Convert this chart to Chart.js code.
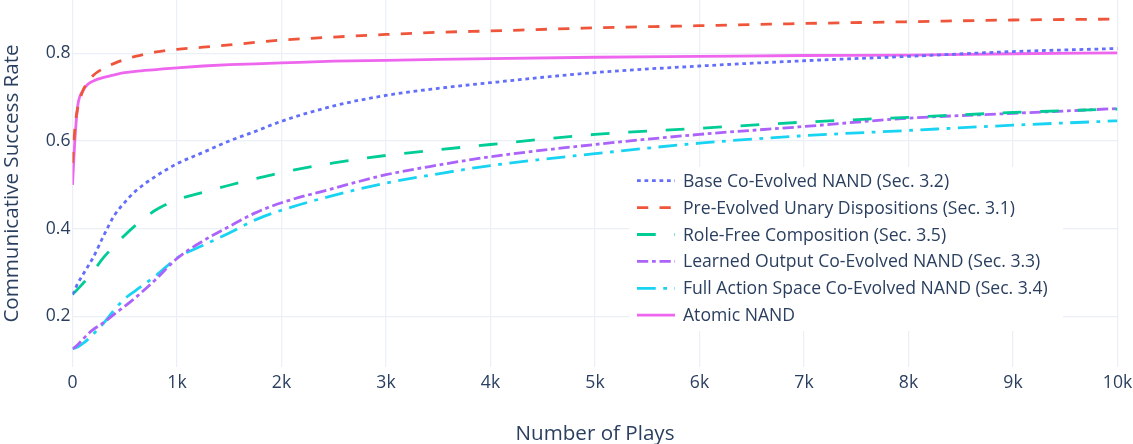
<!DOCTYPE html>
<html>
<head>
<meta charset="utf-8">
<script src="https://cdn.jsdelivr.net/npm/chart.js@4/dist/chart.umd.min.js"></script>
<style>
  html,body{margin:0;padding:0;background:#fff;}
  #wrap{width:1133px;height:444px;position:relative;}
</style>
</head>
<body>
<div id="wrap"><canvas id="c" width="1133" height="444"></canvas></div>
<script>
// x positions (number of plays)
const plays = [0, 25, 50, 100, 150, 200, 300, 400, 500, 600, 800, 1000, 1250, 1500, 1750, 2000, 2500, 3000, 3500, 4000, 5000, 6000, 7000, 8000, 9000, 10000];

const baseCoEvolved   = [0.25, 0.262, 0.275, 0.295, 0.315, 0.335, 0.385, 0.43, 0.46, 0.485, 0.52, 0.548, 0.574, 0.600, 0.622, 0.645, 0.68, 0.704, 0.72, 0.733, 0.756, 0.771, 0.783, 0.793, 0.804, 0.811];
const preEvolvedUnary = [0.55, 0.635, 0.675, 0.715, 0.735, 0.75, 0.766, 0.777, 0.786, 0.793, 0.803, 0.809, 0.814, 0.819, 0.825, 0.830, 0.837, 0.843, 0.848, 0.851, 0.858, 0.863, 0.868, 0.872, 0.876, 0.878];
const roleFree        = [0.25, 0.256, 0.262, 0.275, 0.288, 0.303, 0.335, 0.36, 0.385, 0.407, 0.443, 0.466, 0.483, 0.499, 0.514, 0.528, 0.550, 0.567, 0.580, 0.592, 0.615, 0.629, 0.643, 0.654, 0.665, 0.673];
const learnedOutput   = [0.126, 0.13, 0.135, 0.148, 0.16, 0.17, 0.186, 0.205, 0.223, 0.242, 0.285, 0.332, 0.372, 0.405, 0.436, 0.459, 0.492, 0.523, 0.545, 0.564, 0.592, 0.615, 0.633, 0.652, 0.663, 0.674];
const fullActionSpace = [0.126, 0.128, 0.13, 0.138, 0.148, 0.16, 0.185, 0.215, 0.24, 0.258, 0.293, 0.333, 0.362, 0.39, 0.42, 0.442, 0.476, 0.504, 0.525, 0.544, 0.571, 0.595, 0.612, 0.624, 0.636, 0.646];
const atomicNand      = [0.50, 0.61, 0.68, 0.715, 0.73, 0.737, 0.745, 0.751, 0.756, 0.759, 0.763, 0.767, 0.771, 0.774, 0.776, 0.778, 0.782, 0.784, 0.786, 0.788, 0.791, 0.793, 0.795, 0.796, 0.799, 0.801];

const seriesNames = [
  'Base Co-Evolved NAND (Sec. 3.2)',
  'Pre-Evolved Unary Dispositions (Sec. 3.1)',
  'Role-Free Composition (Sec. 3.5)',
  'Learned Output Co-Evolved NAND (Sec. 3.3)',
  'Full Action Space Co-Evolved NAND (Sec. 3.4)',
  'Atomic NAND'
];
const seriesValues = [baseCoEvolved, preEvolvedUnary, roleFree, learnedOutput, fullActionSpace, atomicNand];
const seriesColors = ['#636EFA', '#EF553B', '#00CC96', '#AB63FA', '#19D3F3', '#EE66EE'];
const seriesDash = [
  [3.75, 3.75],
  [11.25, 11.25],
  [18.75, 18.75],
  [11.25, 3.75, 3.75, 3.75],
  [18.75, 7.5, 3.75, 7.5],
  []
];

const yTicks = [0.2, 0.4, 0.6, 0.8];
const xTickLabel = v => v === 0 ? '0' : (v / 1000) + 'k';

const FONT = '"Open Sans", Verdana, Arial, sans-serif';
const INK = '#2a3f5f';
const GRID = '#EBF0F8';
const LW = 2.8;

// legend drawn inside the plot, like the plotly one
const insideLegend = {
  id: 'insideLegend',
  afterDatasetsDraw(chart){
    const ctx = chart.ctx;
    ctx.save();
    ctx.fillStyle = '#fff';
    ctx.fillRect(629, 167, 434, 164);
    chart.data.datasets.forEach((ds, i) => {
      const y = 180.7 + i * 26.9;
      ctx.beginPath();
      ctx.setLineDash(ds.borderDash || []);
      ctx.strokeStyle = ds.borderColor;
      ctx.lineWidth = LW;
      ctx.moveTo(637, y);
      ctx.lineTo(675, y);
      ctx.stroke();
      ctx.setLineDash([]);
      ctx.fillStyle = INK;
      ctx.font = '17.6px ' + FONT;
      ctx.textBaseline = 'middle';
      ctx.textAlign = 'left';
      ctx.fillText(ds.label, 683, y + 1);
    });
    ctx.restore();
  }
};

new Chart(document.getElementById('c'), {
  type: 'line',
  data: {
    datasets: seriesNames.map((name, i) => ({
      label: name,
      data: plays.map((x, j) => ({x, y: seriesValues[i][j]})),
      borderColor: seriesColors[i],
      backgroundColor: seriesColors[i],
      borderDash: seriesDash[i],
      borderWidth: LW,
      pointRadius: 0,
      cubicInterpolationMode: 'monotone',
      fill: false
    }))
  },
  plugins: [insideLegend],
  options: {
    responsive: false,
    animation: false,
    layout: {padding: {left: 0, right: 15.5, top: 0, bottom: 0}},
    plugins: {legend: {display: false}, tooltip: {enabled: false}},
    scales: {
      x: {
        type: 'linear', min: 0, max: 10000,
        afterFit: s => { s.height = 77; s.paddingLeft = 0; s.paddingRight = 0; },
        ticks: {stepSize: 1000, callback: xTickLabel, color: INK, font: {family: FONT, size: 17.6}, padding: 5, maxRotation: 0},
        grid: {color: GRID, lineWidth: 1.25, drawTicks: false},
        border: {display: false},
        title: {display: true, text: 'Number of Plays', color: INK, font: {family: FONT, size: 20.6}, padding: {top: 0, bottom: -2}}
      },
      y: {
        type: 'linear', min: 0.0844, max: 0.9216,
        afterFit: s => { s.width = 72.5; s.paddingTop = 0; s.paddingBottom = 0; },
        afterBuildTicks: s => { s.ticks = yTicks.map(v => ({value: v})); },
        ticks: {callback: v => v.toFixed(1), color: INK, font: {family: FONT, size: 17.6}, padding: 2},
        grid: {color: GRID, lineWidth: 1.25, drawTicks: false},
        border: {display: false},
        title: {display: true, text: 'Communicative Success Rate', color: INK, font: {family: FONT, size: 20.6}, padding: {top: 0, bottom: 0}}
      }
    }
  }
});
</script>
</body>
</html>
